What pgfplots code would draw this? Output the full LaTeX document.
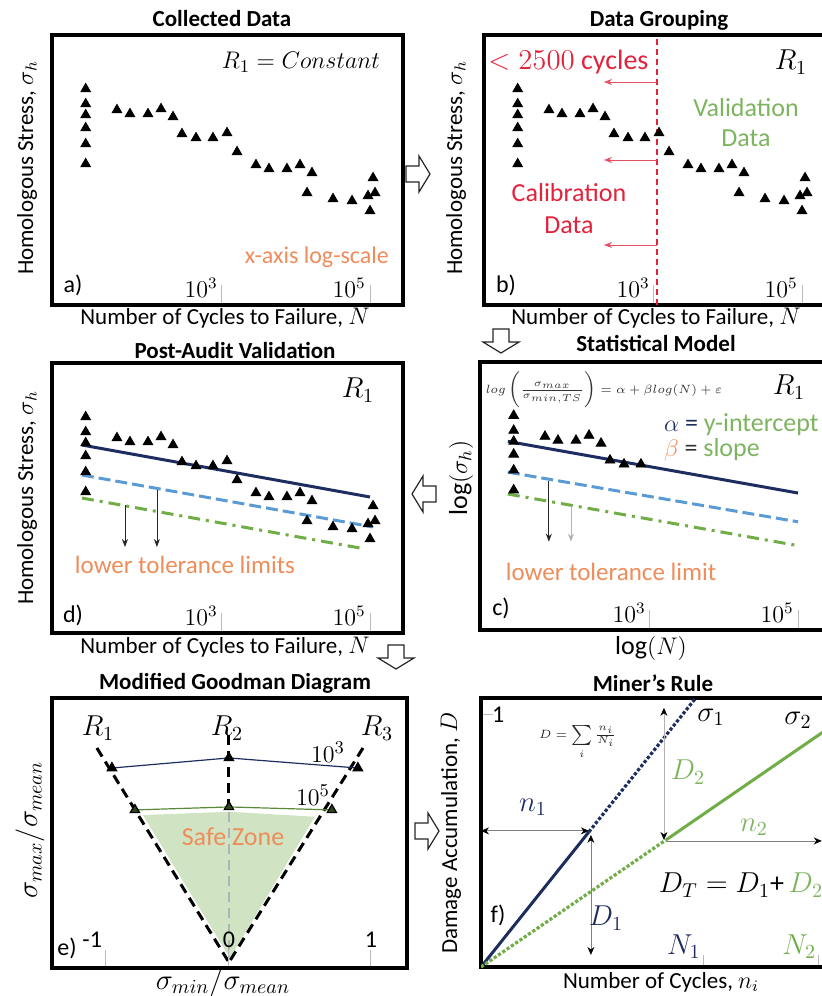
\documentclass[border=0pt]{standalone}
\usepackage{fontspec}
\setmainfont{Carlito}
\usepackage{pgfplots}
\usepackage{pgfplotstable}
\pgfplotsset{compat=1.18}
\usetikzlibrary{arrows.meta}

\definecolor{navy}{RGB}{30,45,95}
\definecolor{lblue}{RGB}{91,155,213}
\definecolor{lgreen}{RGB}{112,173,71}
\definecolor{tgreen}{RGB}{125,180,95}
\definecolor{torange}{RGB}{238,140,90}
\definecolor{tred}{RGB}{225,35,60}
\definecolor{safe}{RGB}{208,228,196}
\newcommand{\fs}[1]{\fontsize{#1}{#1}\selectfont}

% cycles to failure N, homologous stress (arbitrary units)
\pgfplotstableread{
N y
14.4 216
14.4 201
14.4 190
14.4 177
14.4 161
14.4 141
38.1 195
57.1 191
100 191
150 196
218 188
288 171
446 167
755 167
}\calib
\pgfplotstableread{
N y
1169 172
1597 153
2879 140
4314 136
7551 136
11320 140
16440 132
14090 112
31620 106
57150 104
93970 109
109900 127
116900 112
100000 94
}\valid

\pgfplotsset{
  panel/.style={scale only axis, width=175.5pt, height=135pt,
    axis line style={line width=1.7pt},
    tick align=inside, tick pos=left,
    tick style={gray!55, line width=0.5pt},
    ytick=\empty},
  snpanel/.style={panel, xmin=5.05, xmax=2.79e5, ymin=0, ymax=270,
    xtick={1e3,1e5}, xticklabels={$10^3$,$10^5$}, major tick length=10pt,
    xticklabel style={anchor=south east, font=\fs{12}, inner sep=1pt, xshift=-1pt, yshift=2.5pt}},
  pts/.style={only marks, mark=triangle*, mark size=2.8pt, black},
}
\newcommand{\blockarrow}[3]{%
  \draw[draw=gray!30!black, fill=white, line width=0.6pt, shift={(#1,#2)}, rotate=#3]
    (-12,-8) -- (1,-8) -- (1,-18) -- (12,0) -- (1,18) -- (1,8) -- (-12,8) -- cycle;}

\begin{document}
\begin{tikzpicture}[x=0.5pt,y=-0.5pt]
\useasboundingbox (0,0) rectangle (822,996);
\clip (0,0) rectangle (822,996);

% a) collected data
\begin{semilogxaxis}[snpanel, at={(26pt,-17.5pt)}, anchor=north west]
\addplot[pts] table {\calib};
\addplot[pts] table {\valid};
\end{semilogxaxis}

% b) data grouping
\begin{semilogxaxis}[snpanel, at={(242pt,-17.5pt)}, anchor=north west]
\addplot[pts] table {\calib};
\addplot[pts] table {\valid};
\draw[tred, densely dashed, line width=0.7pt] (axis cs:1100,0) -- (axis cs:1100,270);
\draw[tred!80, -{Stealth[length=4pt,width=3pt]}] (axis cs:1100,223) -- (axis cs:211,223);
\draw[tred!80, -{Stealth[length=4pt,width=3pt]}] (axis cs:1100,145) -- (axis cs:211,145);
\draw[tred!80, -{Stealth[length=4pt,width=3pt]}] (axis cs:1100,60) -- (axis cs:211,60);
\end{semilogxaxis}

% d) post-audit validation
\begin{semilogxaxis}[snpanel, at={(26pt,-181.5pt)}, anchor=north west]
\addplot[lgreen, line width=1.5pt, dash pattern=on 6pt off 3pt on 1.5pt off 3pt] coordinates {(12.8,135) (7.3e4,85)};
\addplot[lblue, line width=1.5pt, dash pattern=on 6pt off 2.5pt] coordinates {(12.8,158) (1.1e5,106)};
\addplot[navy, line width=1.5pt] coordinates {(12.8,188) (1e5,136)};
\addplot[pts] table {\calib};
\addplot[pts] table {\valid};
\draw[gray!30!black, -{Stealth[length=4pt,width=3pt]}] (axis cs:48.9,128) -- (axis cs:48.9,86);
\draw[gray!30!black, -{Stealth[length=4pt,width=3pt]}] (axis cs:132,143) -- (axis cs:132,86);
\end{semilogxaxis}

% c) statistical model
\begin{semilogxaxis}[snpanel, at={(240pt,-181pt)}, anchor=north west, height=134pt]
\addplot[lgreen, line width=1.5pt, dash pattern=on 6pt off 3pt on 1.5pt off 3pt] coordinates {(12,137) (1e5,85)};
\addplot[lblue, line width=1.5pt, dash pattern=on 6pt off 2.5pt] coordinates {(12,159) (1e5,109)};
\addplot[navy, line width=1.5pt] coordinates {(12,190) (1e5,138)};
\addplot[pts] table {\calib};
\draw[gray!30!black, -{Stealth[length=4pt,width=3pt]}] (axis cs:43,150) -- (axis cs:43,89);
\draw[gray!60, -{Stealth[length=4pt,width=3pt]}] (axis cs:85.5,125) -- (axis cs:85.5,89);
\end{semilogxaxis}

% e) modified Goodman diagram
\begin{axis}[panel, at={(26pt,-349pt)}, anchor=north west, width=177.5pt, axis on top,
  xmin=-1.246, xmax=1.254, ymin=0, ymax=1.901,
  xtick={-0.866,0,1}, xticklabels={{\makebox[0pt][r]{-1\,}},0,1}, major tick length=9pt,
  xticklabel style={anchor=south, yshift=9pt, inner sep=1pt, font=\fs{12}}]
\addplot[fill=safe, draw=none] coordinates {(-0.606,1.077) (0,1.10) (0.606,1.065) (0.007,0.07)} -- cycle;
\addplot[gray!60, line width=1.2pt, dash pattern=on 5pt off 3pt] coordinates {(0,1.10) (0,0.08)};
\addplot[black, line width=1.5pt, dash pattern=on 5pt off 3pt] coordinates {(0,1.64) (0,1.12)};
\addplot[black, line width=1.5pt, dash pattern=on 5pt off 3pt] coordinates {(-0.93,1.549) (0,0.04)};
\addplot[black, line width=1.5pt, dash pattern=on 5pt off 3pt] coordinates {(0.944,1.549) (0,0.04)};
\addplot[navy, line width=0.6pt, mark=triangle*, mark size=2.7pt, mark options={black}] coordinates {(-0.824,1.408) (0,1.479) (0.908,1.408)};
\addplot[lgreen!80!black, line width=0.6pt, mark=triangle*, mark size=2.7pt, mark options={fill=lgreen!40!black, draw=black}] coordinates {(-0.662,1.113) (0,1.134) (0.725,1.113)};
\end{axis}

% f) Miner's rule
\begin{axis}[panel, at={(240.5pt,-349pt)}, anchor=north west, height=134.5pt,
  xmin=0, xmax=1.581, ymin=0, ymax=1.067,
  xtick={1,1.52}, xticklabels={{\textcolor{navy}{$N_1$}},{\textcolor{lgreen}{$N_2$}}},
  ytick={1}, yticklabels={1}, major tick length=6pt,
  xticklabel style={anchor=south east, yshift=3pt, inner sep=1pt, font=\fs{14}},
  yticklabel style={anchor=west, xshift=2pt, font=\fs{12}}]
\addplot[navy, line width=1.5pt] coordinates {(0,0) (0.486,0.536)};
\addplot[navy, densely dotted, line width=1.6pt] coordinates {(0.486,0.536) (0.97,1.07)};
\addplot[lgreen, densely dotted, line width=1.6pt] coordinates {(0,0) (0.833,0.504)};
\addplot[lgreen, line width=1.5pt] coordinates {(0.833,0.504) (1.60,0.968)};
\draw[gray, {Stealth[black,length=4pt,width=3.5pt]}-{Stealth[black,length=4pt,width=3.5pt]}] (axis cs:0,0.54) -- (axis cs:0.486,0.54);
\draw[gray, {Stealth[black,length=4pt,width=3.5pt]}-{Stealth[black,length=4pt,width=3.5pt]}] (axis cs:0.495,0.524) -- (axis cs:0.495,0.048);
\draw[gray!60, {Stealth[black,length=4pt,width=3.5pt]}-{Stealth[black,length=4pt,width=3.5pt]}] (axis cs:0.824,0.504) -- (axis cs:0.824,1.028);
\draw[gray, -{Stealth[black,length=4pt,width=3.5pt]}] (axis cs:0.833,0.5) -- (axis cs:1.535,0.5);
\end{axis}

% titles
\begin{scope}[every node/.style={font=\fs{11.5}\bfseries}]
\node at (222,19) {Collected Data};
\node at (659,20) {Data Grouping};
\node at (235,350) {Post-Audit Validation};
\node at (656,343) {Statistical Model};
\node at (235,683) {Modified Goodman Diagram};
\node at (653,683) {Miner’s Rule};
\end{scope}

% axis labels
\begin{scope}[every node/.style={font=\fs{11.5}}]
\node at (225,318) {Number of Cycles to Failure, $N$};
\node at (656,318) {Number of Cycles to Failure, $N$};
\node at (225,647) {Number of Cycles to Failure, $N$};
\node[font=\fs{13}] at (651,648) {$\log(N)$};
\node[font=\fs{14}] at (223,982) {$\sigma_{min}/\sigma_{mean}$};
\node at (661,982) {Number of Cycles, $n_i$};
\node[rotate=90] at (27,168) {Homologous Stress, $\sigma_h$};
\node[rotate=90] at (456,168) {Homologous Stress, $\sigma_h$};
\node[rotate=90] at (27,498) {Homologous Stress, $\sigma_h$};
\node[rotate=90, font=\fs{13}] at (461,478) {$\log(\sigma_h)$};
\node[rotate=90, font=\fs{14}] at (30,830) {$\sigma_{max}/\sigma_{mean}$};
\node[rotate=90] at (451,833) {Damage Accumulation, $D$};
\end{scope}

% panel annotations
\begin{scope}[every node/.style={font=\fs{12}}]
% a
\node[anchor=east, font=\fs{13}] at (387,62) {$R_1 = Constant$};
\node[anchor=east, torange] at (396,257) {x-axis log-scale};
\node at (73,285) {a)};
% b
\node[anchor=west, inner sep=0pt, tred, font=\fs{14}] at (488,62) {$<2500$ cycles};
\node[tred, font=\fs{13}] at (569,193) {Calibration};
\node[tred, font=\fs{13}] at (569,225) {Data};
\node[tgreen, font=\fs{13}] at (746,108) {Validation};
\node[tgreen, font=\fs{13}] at (746,138) {Data};
\node[font=\fs{14}] at (791,62) {$R_1$};
\node at (506,285) {b)};
% d
\node[font=\fs{14}] at (358,390) {$R_1$};
\node[torange, font=\fs{12.5}] at (185,565) {lower tolerance limits};
\node at (73,615) {d)};
% c
\node[gray!40!black, font=\fs{6.5}] at (604,390) {$log\left(\frac{\sigma_{max}}{\sigma_{min,TS}}\right) = \alpha + \beta log(N) + \varepsilon$};
\node[font=\fs{14}] at (789,387) {$R_1$};
\node[anchor=west, font=\fs{13}] at (657,425) {\textcolor{navy}{$\alpha$} \textcolor{navy}{=} \textcolor{tgreen}{y-intercept}};
\node[anchor=west, font=\fs{13}] at (657,450) {\textcolor{torange}{$\beta$} \textcolor{gray!40!black}{=} \textcolor{tgreen}{slope}};
\node[torange, font=\fs{12.5}] at (611,572) {lower tolerance limit};
\node at (501,608) {c)};
% e
\node[font=\fs{14}] at (98,728) {$R_1$};
\node[font=\fs{14}] at (227,728) {$R_2$};
\node[font=\fs{14}] at (377,728) {$R_3$};
\node[font=\fs{13}] at (328,752) {$10^3$};
\node[font=\fs{13}] at (313,795) {$10^5$};
\node[torange, font=\fs{13}] at (233,837) {Safe Zone};
\node at (67,948) {e)};
% f
\node[gray!30!black, font=\fs{6}] at (578,742) {$D=\sum\limits_i \frac{n_i}{N_i}$};
\node[font=\fs{14}] at (711,717) {$\sigma_1$};
\node[font=\fs{14}] at (798,720) {$\sigma_2$};
\node[tgreen, font=\fs{14}] at (688,772) {$D_2$};
\node[navy, font=\fs{14}] at (533,807) {$n_1$};
\node[tgreen, font=\fs{14}] at (754,827) {$n_2$};
\node[font=\fs{14}] at (741,885) {$D_T = D_1$+\,\textcolor{tgreen}{$D_2$}};
\node[navy, font=\fs{14}] at (606,918) {$D_1$};
\node at (498,915) {f)};
\end{scope}

% flow arrows
\blockarrow{418}{174}{0}
\blockarrow{501}{341}{-90}
\blockarrow{424}{494}{180}
\blockarrow{396}{657}{-90}
\blockarrow{427}{831}{0}
\end{tikzpicture}
\end{document}
